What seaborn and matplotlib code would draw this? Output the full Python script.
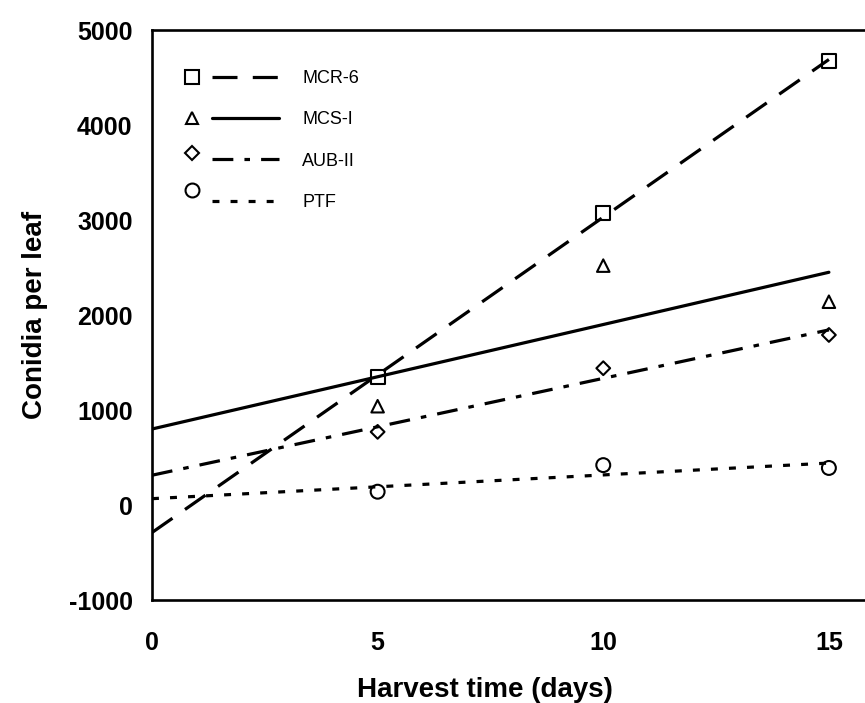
import numpy as np
import pandas as pd
import matplotlib
matplotlib.use("Agg")
import matplotlib.pyplot as plt
import seaborn as sns
from matplotlib.lines import Line2D
from matplotlib.legend_handler import HandlerBase

# Data
days = [5, 10, 15]
mcr6 = [1350, 3070, 4670]
mcs1 = [1040, 2520, 2140]
aub2 = [770, 1440, 1790]
ptf = [140, 420, 390]

series = ["MCR-6", "MCS-I", "AUB-II", "PTF"]
values = [mcr6, mcs1, aub2, ptf]
markers = ["s", "^", "D", "o"]
marker_sizes = [10, 9, 7, 10]
# dash patterns in points (not scaled by line width)
dash_styles = [(0, (18, 11)), "-", (0, (15, 8, 4, 8)), (0, (5, 8))]
legend_lift = [0.0, 0.0, 0.5, 0.85]

sns.set_style("white")
plt.rcParams["font.family"] = ["Liberation Sans", "DejaVu Sans"]
plt.rcParams["lines.scale_dashes"] = False
plt.rcParams["axes.unicode_minus"] = False
plt.rcParams["text.color"] = "black"
plt.rcParams["axes.labelcolor"] = "black"


class MarkerLineHandler(HandlerBase):
    """Draw a marker on the left and the line style to its right."""

    def __init__(self, lift=0.0):
        super().__init__()
        self.lift = lift

    def create_artists(self, legend, orig_handle, xdescent, ydescent,
                       width, height, fontsize, trans):
        mk, ln = orig_handle
        x0 = -xdescent
        y = 0.5 * height - ydescent
        m = Line2D([x0 + 0.08 * width], [y + self.lift * height])
        m.update_from(mk)
        m.set_transform(trans)
        l = Line2D([x0 + 0.29 * width, x0 + width], [y, y])
        l.update_from(ln)
        l.set_transform(trans)
        return [m, l]


fig = plt.figure(figsize=(8.65, 7.03), dpi=100)
ax = fig.add_axes([0.1757, 0.1465, 0.8243, 0.8108])

handles = []
handler_map = {}
fit_x = np.array([0, 15])
for name, vals, mk, ms, ls, lift in zip(series, values, markers, marker_sizes,
                                         dash_styles, legend_lift):
    df = pd.DataFrame({"day": days, "conidia": vals})
    slope, icpt = np.polyfit(df["day"], df["conidia"], 1)
    ax.plot(fit_x, icpt + slope * fit_x, color="black", lw=2.3,
            linestyle=ls, zorder=2, dash_capstyle="butt")
    sns.scatterplot(data=df, x="day", y="conidia", ax=ax, marker=mk, s=ms ** 2,
                    facecolor="none", edgecolor="black", linewidth=1.5,
                    zorder=3)
    mk_proxy = Line2D([], [], linestyle="none", marker=mk, markersize=ms,
                      markerfacecolor="none", markeredgecolor="black",
                      markeredgewidth=1.5)
    ln_proxy = Line2D([], [], color="black", lw=2.3, linestyle=ls)
    h = (mk_proxy, ln_proxy)
    handles.append(h)
    handler_map[h] = MarkerLineHandler(lift)

ax.set_xlim(0, 15.8)
ax.set_ylim(-1000, 5000)
ax.set_xticks([0, 5, 10, 15])
ax.set_yticks(np.arange(-1000, 5001, 1000))

for side in ["left", "bottom", "top"]:
    ax.spines[side].set_linewidth(1.9)
    ax.spines[side].set_color("black")
ax.spines["right"].set_visible(False)

ax.tick_params(axis="both", direction="in", length=5, width=1.6,
               colors="black", labelsize=18)
ax.tick_params(axis="x", pad=22)
ax.tick_params(axis="y", pad=14)
for lab in ax.get_xticklabels() + ax.get_yticklabels():
    lab.set_fontweight("bold")

ax.set_xlabel("Harvest time (days)", fontsize=20, fontweight="bold")
ax.set_ylabel("Conidia per leaf", fontsize=20, fontweight="bold")
ax.xaxis.set_label_coords(0.467, -0.135)
ax.yaxis.set_label_coords(-0.146, 0.5)

ax.legend(handles, series, handler_map=handler_map, loc="upper left",
          bbox_to_anchor=(0.046, 0.93), frameon=False, fontsize=13,
          handlelength=5.2, handletextpad=1.3, labelspacing=1.35,
          borderpad=0, borderaxespad=0)

fig.savefig("out.png", dpi=100)
